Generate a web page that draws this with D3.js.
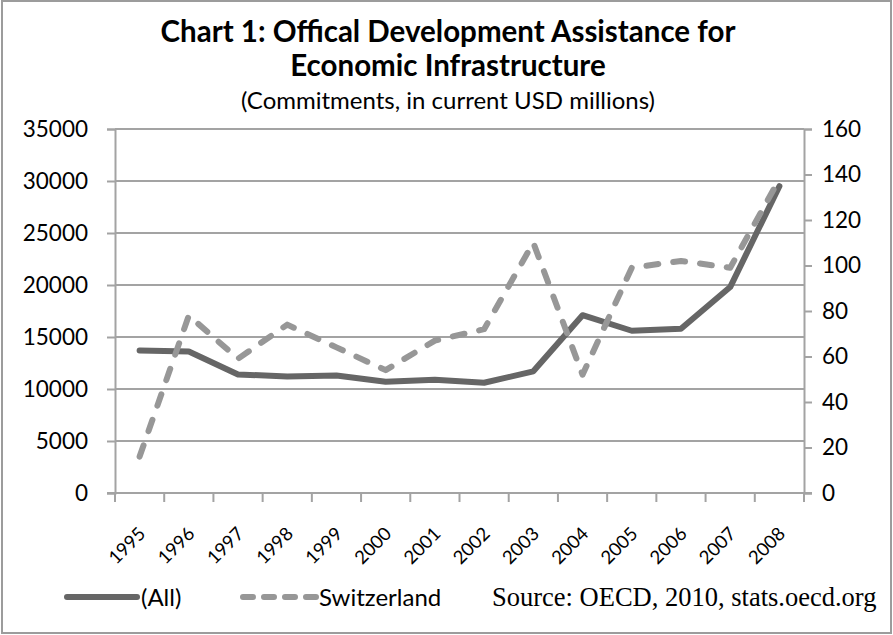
<!DOCTYPE html>
<html>
<head>
<meta charset="utf-8">
<script src="https://cdn.jsdelivr.net/npm/d3@7"></script>
<style>
  body { margin: 0; background: #fff; }
  text { font-family: Lato, "Open Sans", sans-serif; fill: #000; }
  .source { font-family: "Liberation Serif", "Times New Roman", serif; }
</style>
</head>
<body>
<div id="target"></div>
<script>
const width = 893,
  height = 635;

// chart data
const years = ["1995", "1996", "1997", "1998", "1999", "2000", "2001",
  "2002", "2003", "2004", "2005", "2006", "2007", "2008"];
const allDonors = [13700, 13600, 11400, 11200, 11300, 10700, 10900,
  10600, 11700, 17100, 15600, 15800, 19800, 29500];
const switzerland = [16, 78, 59, 74, 64, 54, 67, 72, 110, 52, 99, 102, 99, 138];
const leftTicks = [0, 5000, 10000, 15000, 20000, 25000, 30000, 35000];
const rightTicks = [0, 20, 40, 60, 80, 100, 120, 140, 160];

const plot = { left: 115, right: 804, top: 129, bottom: 493 };
const gridColor = "#a3a3a3";

const svg = d3.select("#target").append("svg")
  .attr("width", width)
  .attr("height", height);

svg.append("rect")
  .attr("x", 2)
  .attr("y", 1)
  .attr("width", 889)
  .attr("height", 632)
  .attr("fill", "#fff")
  .attr("stroke", "#9c9c9c")
  .attr("stroke-width", 2);

const x = d3.scaleBand()
  .domain(years)
  .range([plot.left, plot.right]);

const yLeft = d3.scaleLinear()
  .domain([0, 35000])
  .range([plot.bottom, plot.top]);

const yRight = d3.scaleLinear()
  .domain([0, 160])
  .range([plot.bottom, plot.top]);

// gridlines
svg.append("g")
  .selectAll("line")
  .data(leftTicks)
  .enter()
  .append("line")
  .attr("x1", plot.left)
  .attr("x2", plot.right)
  .attr("y1", (d) => yLeft(d))
  .attr("y2", (d) => yLeft(d))
  .attr("stroke", gridColor)
  .attr("stroke-width", 2);

// axes
const leftAxis = svg.append("g")
  .attr("transform", `translate(${plot.left},0)`)
  .call(d3.axisLeft(yLeft).tickValues(leftTicks).tickSize(8).tickPadding(19).tickFormat(d3.format("d")));

const rightAxis = svg.append("g")
  .attr("transform", `translate(${plot.right},0)`)
  .call(d3.axisRight(yRight).tickValues(rightTicks).tickSize(8).tickPadding(10));

const bottomAxis = svg.append("g")
  .attr("transform", `translate(0,${plot.bottom})`)
  .call(d3.axisBottom(x).tickSize(0).tickPadding(0));

[leftAxis, rightAxis].forEach((g) => {
  g.select(".domain").attr("stroke", gridColor).attr("stroke-width", 2);
  g.selectAll(".tick line").attr("stroke", gridColor).attr("stroke-width", 2);
  g.selectAll(".tick text")
    .style("font-family", "Lato, sans-serif")
    .style("font-size", "22.5px")
    .attr("fill", "#000");
});

bottomAxis.select(".domain").remove();

// category boundary ticks on x axis
svg.append("g")
  .selectAll("line")
  .data(years.concat(["end"]))
  .enter()
  .append("line")
  .attr("x1", (d, i) => plot.left + i * x.step())
  .attr("x2", (d, i) => plot.left + i * x.step())
  .attr("y1", plot.bottom)
  .attr("y2", plot.bottom + 9)
  .attr("stroke", gridColor)
  .attr("stroke-width", 2);

svg.append("line")
  .attr("x1", plot.left - 8)
  .attr("x2", plot.right + 8)
  .attr("y1", plot.bottom)
  .attr("y2", plot.bottom)
  .attr("stroke", gridColor)
  .attr("stroke-width", 2);

bottomAxis.selectAll(".tick text")
  .style("font-family", "Lato, sans-serif")
  .style("font-size", "18.5px")
  .attr("fill", "#000")
  .attr("text-anchor", "end")
  .attr("dy", "0")
  .attr("transform", "translate(7,42) rotate(-45)");

// series
const solidLine = d3.line()
  .x((d, i) => x(years[i]) + x.bandwidth() / 2)
  .y((d) => yLeft(d));

const dashLine = d3.line()
  .x((d, i) => x(years[i]) + x.bandwidth() / 2)
  .y((d) => yRight(d));

svg.append("path")
  .datum(allDonors)
  .attr("d", solidLine)
  .attr("fill", "none")
  .attr("stroke", "#666666")
  .attr("stroke-width", 6)
  .attr("stroke-linejoin", "round")
  .attr("stroke-linecap", "round");

svg.append("path")
  .datum(switzerland)
  .attr("d", dashLine)
  .attr("fill", "none")
  .attr("stroke", "#979797")
  .attr("stroke-width", 6)
  .attr("stroke-linejoin", "round")
  .attr("stroke-linecap", "round")
  .attr("stroke-dasharray", "12,15");

// titles
svg.append("text")
  .attr("x", 448)
  .attr("y", 42)
  .attr("text-anchor", "middle")
  .style("font-size", "29.5px")
  .style("font-weight", "bold")
  .text("Chart 1: Offical Development Assistance for");

svg.append("text")
  .attr("x", 448)
  .attr("y", 76)
  .attr("text-anchor", "middle")
  .style("font-size", "29.5px")
  .style("font-weight", "bold")
  .text("Economic Infrastructure");

svg.append("text")
  .attr("x", 448)
  .attr("y", 109)
  .attr("text-anchor", "middle")
  .style("font-size", "24px")
  .text("(Commitments, in current USD millions)");

// legend
const legend = svg.append("g");

legend.append("line")
  .attr("x1", 67).attr("x2", 137)
  .attr("y1", 597).attr("y2", 597)
  .attr("stroke", "#666666")
  .attr("stroke-width", 6)
  .attr("stroke-linecap", "round");

legend.append("text")
  .attr("x", 141)
  .attr("y", 606)
  .style("font-size", "24px")
  .text("(All)");

legend.append("line")
  .attr("x1", 243).attr("x2", 316)
  .attr("y1", 597).attr("y2", 597)
  .attr("stroke", "#979797")
  .attr("stroke-width", 6)
  .attr("stroke-linecap", "round")
  .attr("stroke-dasharray", "10,11");

legend.append("text")
  .attr("x", 319)
  .attr("y", 606)
  .style("font-size", "24px")
  .text("Switzerland");

legend.append("text")
  .attr("class", "source")
  .attr("x", 492)
  .attr("y", 606)
  .style("font-size", "26.5px")
  .text("Source: OECD, 2010, stats.oecd.org");
</script>
</body>
</html>
